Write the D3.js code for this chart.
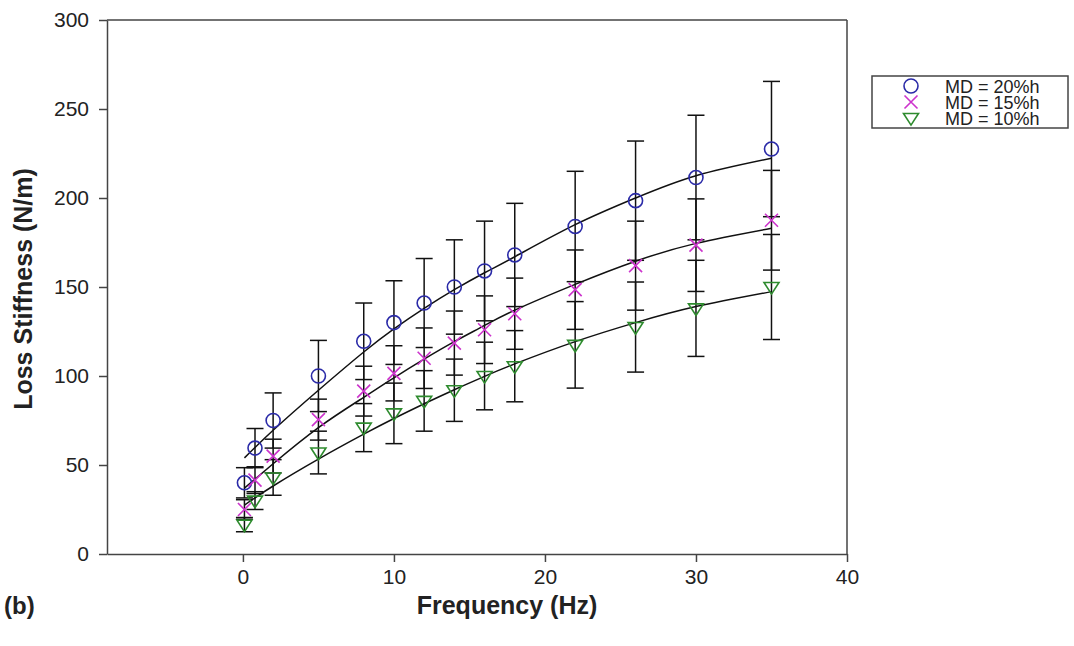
<!DOCTYPE html>
<html lang="en">
<head>
<meta charset="utf-8">
<title>Loss Stiffness vs Frequency</title>
<script src="https://d3js.org/d3.v7.min.js"></script>
<style>
  body { margin: 0; background: #fff; }
  svg text { font-family: "Liberation Sans", Arial, sans-serif; fill: #222; }
  .axis path, .axis line { stroke: #444; stroke-width: 1.5px; }
</style>
</head>
<body>
<script>
// frequencies (Hz)
const freq = [0.1, 0.8, 2, 5, 8, 10, 12, 14, 16, 18, 22, 26, 30, 35];

// mean loss stiffness (N/m) and error half-width for each series
const md20 = [40, 59.5, 75, 100, 119.5, 130, 141, 150, 159, 168, 184, 198.5, 211.5, 227.5];
const md20err = [8.5, 11, 15.5, 20, 21.5, 23.5, 25, 26.5, 28, 29, 31, 33.5, 35, 38];
const md15 = [25, 41.5, 55, 75.5, 91.5, 101.5, 110, 118.5, 126, 135, 148.5, 162, 173.5, 187.5];
const md15err = [5.5, 7.5, 9.5, 11.5, 14, 15.5, 17, 18, 19, 20, 22.3, 25, 26, 28];
const md10 = [16.5, 30, 43, 57, 71, 79, 86, 92, 100, 105.5, 117.5, 127.5, 138, 150];
const md10err = [4, 5, 10, 12, 13.5, 17, 17, 17.5, 19, 20, 24.3, 25.3, 27, 29.5];

// fitted curves
const fitX = [0.1, 2, 5, 8, 10, 12, 14, 16, 18, 22, 26, 30, 35];
const fit20 = [54, 69.5, 92, 113.5, 126.5, 138, 148.5, 158, 167, 185, 200, 212.5, 222.3];
const fit15 = [37, 50.7, 71, 88, 99, 109.5, 119.3, 128.4, 137, 151.5, 164.5, 174.5, 183];
const fit10 = [27.5, 38.2, 53.3, 67.3, 76.1, 84.4, 92.3, 99.8, 106.8, 119.3, 130, 139, 147.4];

const labels = ["MD = 20%h", "MD = 15%h", "MD = 10%h"];
const xTicks = [0, 10, 20, 30, 40];
const yTicks = [0, 50, 100, 150, 200, 250, 300];

const w = 1074, h = 646;
const pLeft = 107, pRight = 847, pTop = 20, pBottom = 554;

const svg = d3.select("body").append("svg")
  .attr("width", w).attr("height", h);

const x = d3.scaleLinear().domain([-9, 40]).range([pLeft, pRight]);
const y = d3.scaleLinear().domain([0, 300]).range([pBottom, pTop]);

// frame top and right
svg.append("line").attr("x1", pLeft).attr("x2", pRight).attr("y1", pTop).attr("y2", pTop)
  .attr("stroke", "#444").attr("stroke-width", 1.5);
svg.append("line").attr("x1", pRight).attr("x2", pRight).attr("y1", pTop).attr("y2", pBottom)
  .attr("stroke", "#444").attr("stroke-width", 1.5);

svg.append("g").attr("class", "axis")
  .attr("transform", "translate(0," + pBottom + ")")
  .call(d3.axisBottom(x).tickValues(xTicks).tickSize(8).tickPadding(7).tickSizeOuter(0))
  .call(g => g.selectAll("text").style("font-size", "21px"));

svg.append("g").attr("class", "axis")
  .attr("transform", "translate(" + pLeft + ",0)")
  .call(d3.axisLeft(y).tickValues(yTicks).tickSize(8).tickPadding(10).tickSizeOuter(0))
  .call(g => g.selectAll("text").style("font-size", "21px"));

const series = [
  { vals: md20, err: md20err, fit: fit20, sym: "circle", color: "#2b2ba8" },
  { vals: md15, err: md15err, fit: fit15, sym: "cross", color: "#cc33cc" },
  { vals: md10, err: md10err, fit: fit10, sym: "tri", color: "#2e8b2e" }
];

// error bars
series.forEach(s => {
  const g = svg.append("g").attr("stroke", "#111").attr("stroke-width", 1.5);
  freq.forEach((f, i) => {
    const hi = y(s.vals[i] + s.err[i]), lo = y(s.vals[i] - s.err[i]), cx = x(f);
    g.append("line").attr("x1", cx).attr("x2", cx).attr("y1", hi).attr("y2", lo);
    g.append("line").attr("x1", cx - 8.5).attr("x2", cx + 8.5).attr("y1", hi).attr("y2", hi);
    g.append("line").attr("x1", cx - 8.5).attr("x2", cx + 8.5).attr("y1", lo).attr("y2", lo);
  });
});

// fit curves
const line = d3.line().x(d => x(d[0])).y(d => y(d[1])).curve(d3.curveNatural);
series.forEach(s => {
  svg.append("path")
    .datum(fitX.map((f, i) => [f, s.fit[i]]))
    .attr("d", line)
    .attr("fill", "none").attr("stroke", "#111").attr("stroke-width", 1.5);
});

function drawSym(g, sym, color, cx, cy) {
  if (sym === "circle") {
    g.append("circle").attr("cx", cx).attr("cy", cy).attr("r", 7)
      .attr("fill", "none").attr("stroke", color).attr("stroke-width", 1.6);
  } else if (sym === "cross") {
    const r = 6.5;
    g.append("path")
      .attr("d", `M${cx - r},${cy - r}L${cx + r},${cy + r}M${cx - r},${cy + r}L${cx + r},${cy - r}`)
      .attr("stroke", color).attr("stroke-width", 1.6);
  } else {
    const r = 7.5;
    g.append("path")
      .attr("d", `M${cx - r},${cy - r * 0.6}L${cx + r},${cy - r * 0.6}L${cx},${cy + r * 0.95}Z`)
      .attr("fill", "none").attr("stroke", color).attr("stroke-width", 1.6);
  }
}

// markers
series.forEach(s => {
  const g = svg.append("g");
  freq.forEach((f, i) => drawSym(g, s.sym, s.color, x(f), y(s.vals[i])));
});

// axis titles
svg.append("text")
  .attr("transform", "translate(32,289) rotate(-90)")
  .attr("text-anchor", "middle")
  .attr("font-size", "25px").attr("font-weight", "bold")
  .text("Loss Stiffness (N/m)");

svg.append("text")
  .attr("x", 507).attr("y", 614)
  .attr("text-anchor", "middle")
  .attr("font-size", "25px").attr("font-weight", "bold")
  .text("Frequency (Hz)");

svg.append("text")
  .attr("x", 4).attr("y", 614)
  .attr("font-size", "24px").attr("font-weight", "bold")
  .text("(b)");

// legend
const lg = svg.append("g");
lg.append("rect").attr("x", 872).attr("y", 76).attr("width", 196).attr("height", 52)
  .attr("fill", "#fff").attr("stroke", "#444").attr("stroke-width", 1.5);
series.forEach((s, i) => {
  const ly = 86 + i * 16;
  drawSym(lg, s.sym, s.color, 911, ly);
  lg.append("text").attr("x", 945).attr("y", ly + 6.5)
    .attr("font-size", "18px").text(labels[i]);
});
</script>
</body>
</html>
